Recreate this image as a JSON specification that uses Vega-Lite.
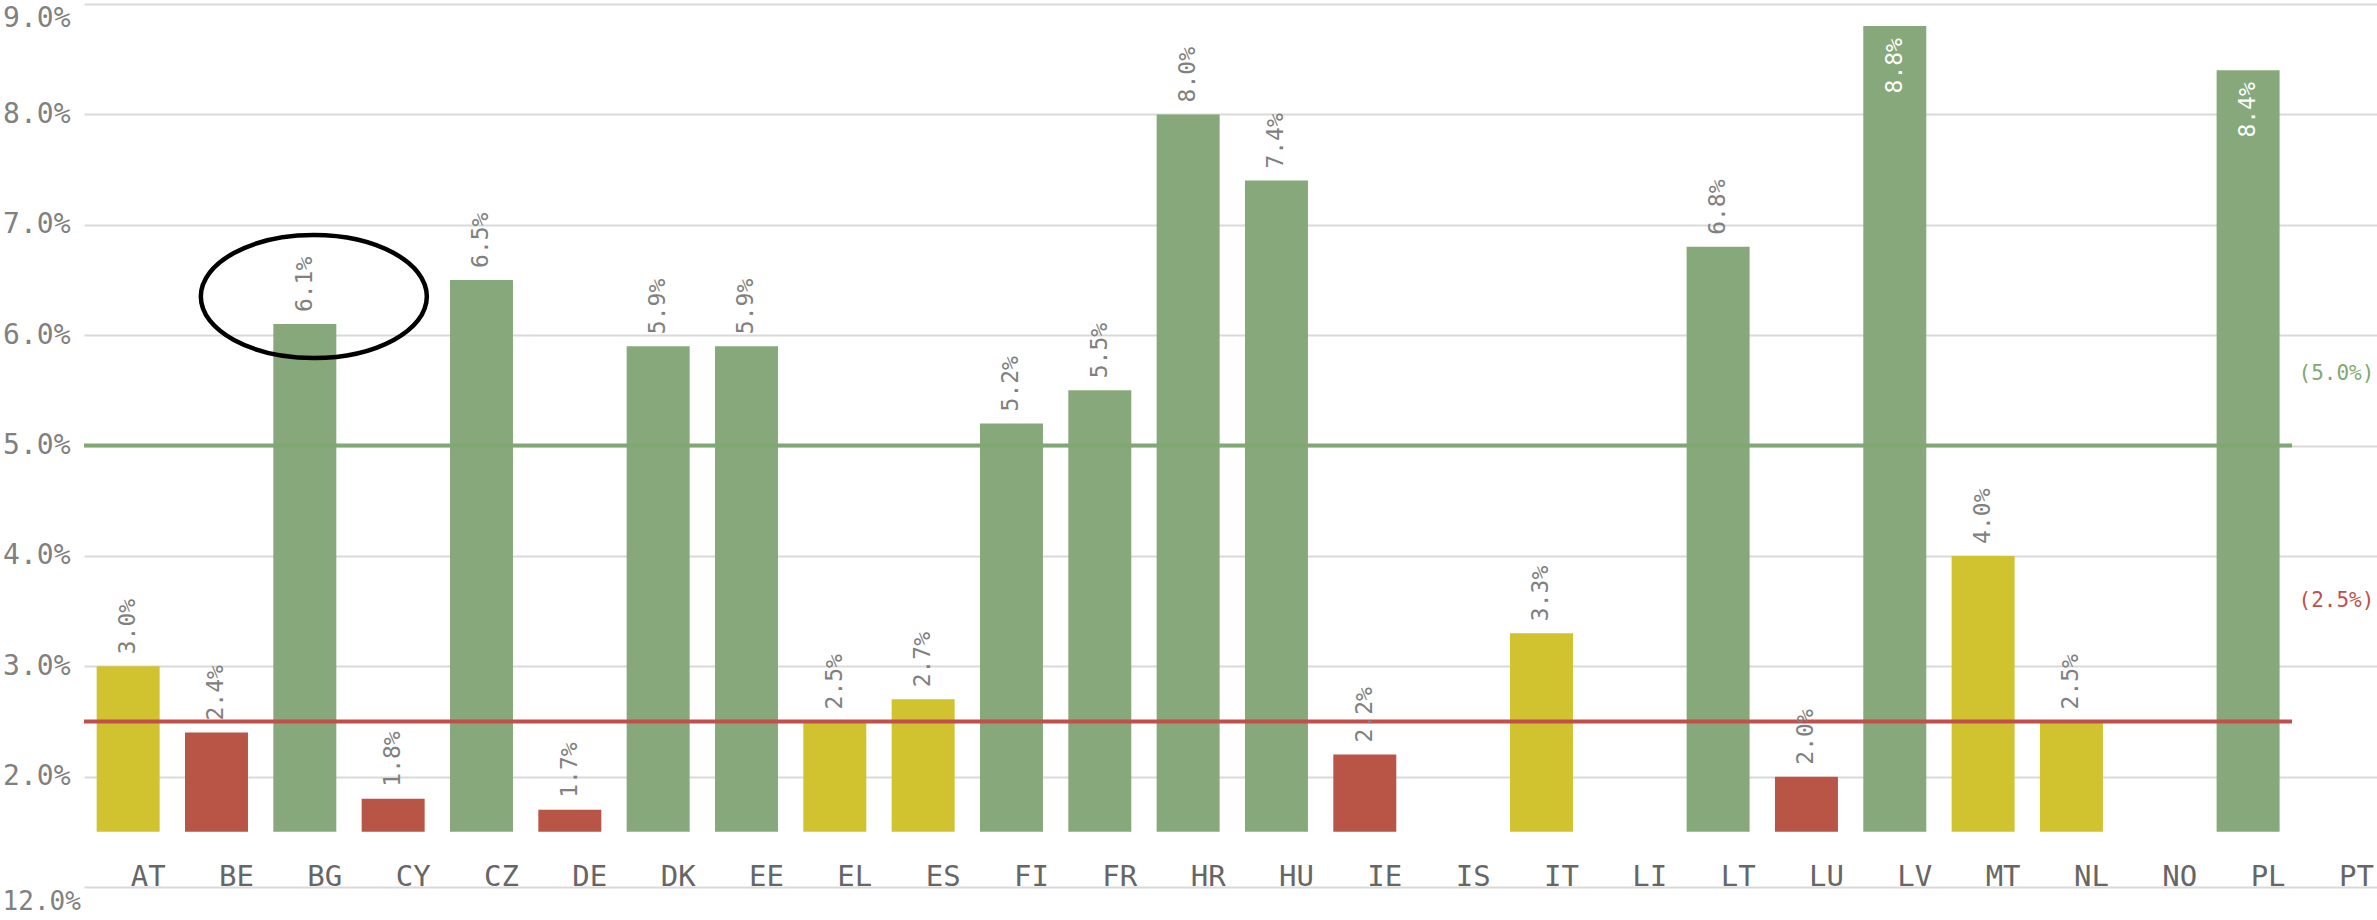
{
  "$schema": "https://vega.github.io/schema/vega-lite/v6.json",
  "autosize": {"type": "none"},
  "padding": {"left": 84, "top": 4, "right": 85, "bottom": 33},
  "width": 2208,
  "height": 883,
  "background": "white",
  "config": {
    "view": {"stroke": null},
    "font": "DejaVu Sans Mono"
  },
  "title": {
    "text": "12.0%",
    "orient": "bottom",
    "anchor": "start",
    "frame": "bounds",
    "font": "DejaVu Sans Mono",
    "fontSize": 26,
    "fontWeight": "normal",
    "color": "#808080",
    "baseline": "top",
    "offset": -2
  },
  "datasets": {
    "rates": [
      {"country": "AT", "value": 0.030},
      {"country": "BE", "value": 0.024},
      {"country": "BG", "value": 0.061},
      {"country": "CY", "value": 0.018},
      {"country": "CZ", "value": 0.065},
      {"country": "DE", "value": 0.017},
      {"country": "DK", "value": 0.059},
      {"country": "EE", "value": 0.059},
      {"country": "EL", "value": 0.025},
      {"country": "ES", "value": 0.027},
      {"country": "FI", "value": 0.052},
      {"country": "FR", "value": 0.055},
      {"country": "HR", "value": 0.080},
      {"country": "HU", "value": 0.074},
      {"country": "IE", "value": 0.022},
      {"country": "IS", "value": null},
      {"country": "IT", "value": 0.033},
      {"country": "LI", "value": null},
      {"country": "LT", "value": 0.068},
      {"country": "LU", "value": 0.020},
      {"country": "LV", "value": 0.088},
      {"country": "MT", "value": 0.040},
      {"country": "NL", "value": 0.025},
      {"country": "NO", "value": null},
      {"country": "PL", "value": 0.084},
      {"country": "PT", "value": null}
    ],
    "refs": [
      {"country": "PT", "label": "(5.0%)", "pos": 0.0565, "line": 0.05, "kind": "high"},
      {"country": "PT", "label": "(2.5%)", "pos": 0.0359, "line": 0.025, "kind": "low"}
    ],
    "note": [
      {"country": "BG", "pos": 0.0635}
    ]
  },
  "layer": [
    {
      "data": {"name": "rates"},
      "transform": [{"filter": "isValid(datum.value)"}],
      "mark": {"type": "bar"},
      "encoding": {
        "x": {
          "field": "country",
          "type": "nominal",
          "sort": null,
          "scale": {"range": [0, 2296.6], "paddingInner": 0.287, "paddingOuter": 0.1435, "domain": ["AT","BE","BG","CY","CZ","DE","DK","EE","EL","ES","FI","FR","HR","HU","IE","IS","IT","LI","LT","LU","LV","MT","NL","NO","PL","PT"]},
          "axis": {
            "title": null,
            "labelAngle": 0,
            "labelOffset": 20,
            "labelPadding": -2,
            "labelBaseline": "alphabetic",
            "labelFont": "DejaVu Sans Mono",
            "labelFontSize": 29,
            "labelColor": "#666666",
            "ticks": false,
            "tickSize": 0,
            "domain": false,
            "grid": false
          }
        },
        "y": {
          "field": "value",
          "type": "quantitative",
          "scale": {"domain": [0.01, 0.09], "nice": false, "zero": false},
          "axis": {
            "title": null,
            "values": [0.01, 0.02, 0.03, 0.04, 0.05, 0.06, 0.07, 0.08, 0.09],
            "format": ".1%",
            "labelExpr": "datum.value < 0.015 ? '' : datum.label",
            "labelFlush": true,
            "labelFont": "DejaVu Sans Mono",
            "labelFontSize": 28,
            "labelColor": "#808080",
            "labelPadding": 14,
            "ticks": false,
            "tickSize": 0,
            "domain": false,
            "grid": true,
            "gridColor": "#d9d9d9",
            "gridWidth": 2
          }
        },
        "y2": {"datum": 0.015},
        "color": {
          "condition": [
            {"test": "datum.value >= 0.05", "value": "#86A87A"},
            {"test": "datum.value < 0.025", "value": "#B95546"}
          ],
          "value": "#D1C230"
        }
      }
    },
    {
      "data": {"name": "refs"},
      "mark": {"type": "rule", "strokeWidth": 4},
      "encoding": {
        "y": {"field": "line", "type": "quantitative"},
        "color": {
          "condition": {"test": "datum.kind == 'high'", "value": "#7FA873"},
          "value": "#C0504A"
        }
      }
    },
    {
      "data": {"name": "rates"},
      "transform": [{"filter": "isValid(datum.value) && datum.value <= 0.082"}],
      "mark": {"type": "text", "angle": 270, "align": "left", "baseline": "middle", "dx": 12, "font": "DejaVu Sans Mono", "fontSize": 23, "color": "#808080"},
      "encoding": {
        "x": {"field": "country", "type": "nominal", "sort": null},
        "y": {"field": "value", "type": "quantitative"},
        "text": {"field": "value", "type": "quantitative", "format": ".1%"}
      }
    },
    {
      "data": {"name": "rates"},
      "transform": [{"filter": "isValid(datum.value) && datum.value > 0.082"}],
      "mark": {"type": "text", "angle": 270, "align": "right", "baseline": "middle", "dx": -12, "font": "DejaVu Sans Mono", "fontSize": 23, "color": "#ffffff"},
      "encoding": {
        "x": {"field": "country", "type": "nominal", "sort": null},
        "y": {"field": "value", "type": "quantitative"},
        "text": {"field": "value", "type": "quantitative", "format": ".1%"}
      }
    },
    {
      "data": {"name": "refs"},
      "mark": {"type": "text", "align": "center", "baseline": "middle", "font": "DejaVu Sans Mono", "fontSize": 21},
      "encoding": {
        "x": {"field": "country", "type": "nominal", "sort": null},
        "y": {"field": "pos", "type": "quantitative"},
        "text": {"field": "label"},
        "color": {
          "condition": {"test": "datum.kind == 'high'", "value": "#7FA873"},
          "value": "#C0504A"
        }
      }
    },
    {
      "data": {"name": "note"},
      "mark": {
        "type": "point",
        "shape": "M -1 0 C -1 -0.3004 -0.5523 -0.544 0 -0.544 C 0.5523 -0.544 1 -0.3004 1 0 C 1 0.3004 0.5523 0.544 0 0.544 C -0.5523 0.544 -1 0.3004 -1 0 Z",
        "filled": false,
        "stroke": "#000000",
        "strokeWidth": 4.5,
        "opacity": 1,
        "size": 51076,
        "xOffset": 9
      },
      "encoding": {
        "x": {"field": "country", "type": "nominal", "sort": null},
        "y": {"field": "pos", "type": "quantitative"}
      }
    }
  ]
}
